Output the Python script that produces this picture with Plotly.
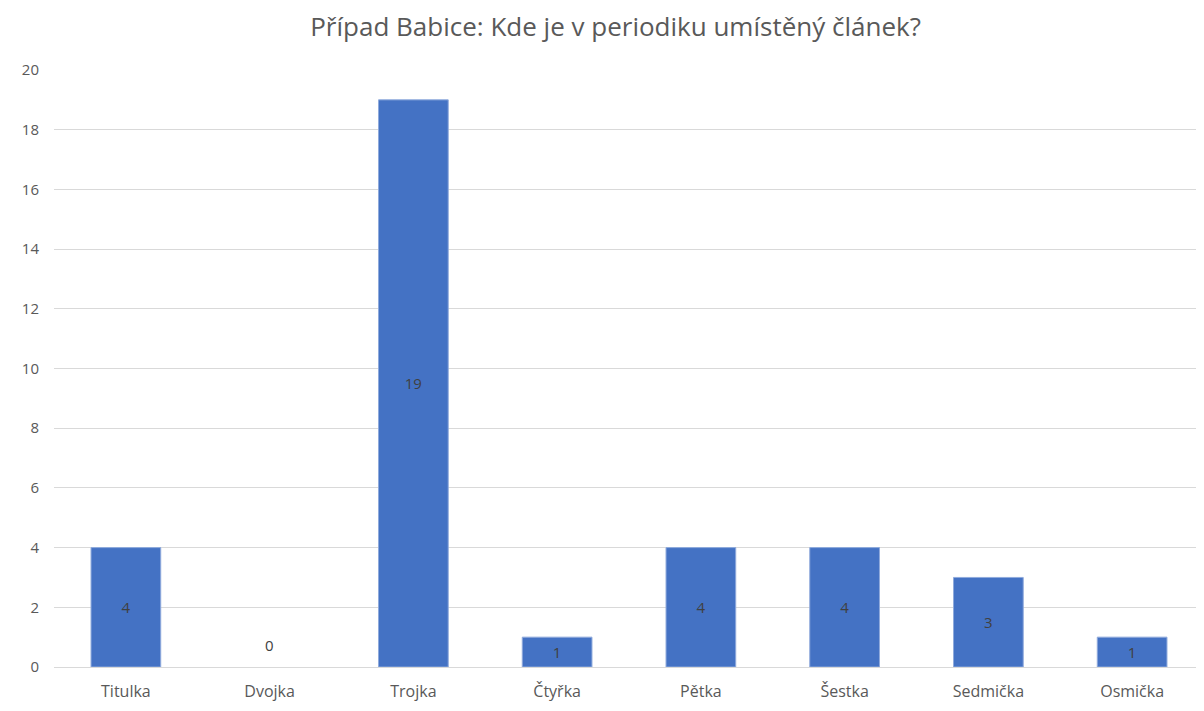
import plotly.graph_objects as go

categories = ["Titulka", "Dvojka", "Trojka", "Čtyřka", "Pětka", "Šestka", "Sedmička", "Osmička"]
values = [4, 0, 19, 1, 4, 4, 3, 1]
y_ticks = [0, 2, 4, 6, 8, 10, 12, 14, 16, 18, 20]
title_text = "Případ Babice: Kde je v periodiku umístěný článek?"

font_family = "Open Sans, Noto Sans, sans-serif"

fig = go.Figure()
fig.add_trace(go.Bar(
    x=categories,
    y=values,
    width=0.485,
    marker=dict(color="#4472C4",
                line=dict(color="#8FAADC", width=[0 if v == 0 else 1 for v in values])),
    text=["" if v == 0 else str(v) for v in values],
    textposition="inside",
    insidetextanchor="middle",
    textfont=dict(color="#404040", size=15, family=font_family),
    cliponaxis=False,
))

# labels for zero-valued bars
for c, v in zip(categories, values):
    if v == 0:
        fig.add_annotation(x=c, y=v, text=str(v), showarrow=False, yshift=22,
                           font=dict(color="#404040", size=15, family=font_family))

fig.update_layout(
    width=1196, height=703,
    paper_bgcolor="white", plot_bgcolor="white",
    margin=dict(l=46, r=0, t=62, b=44),
    title=dict(text=title_text, x=0.508, xanchor="center", xref="container", y=0.973, yanchor="middle",
               font=dict(family=font_family, size=26, color="#595959")),
    showlegend=False,
    uniformtext=dict(minsize=15, mode="show"),
    xaxis=dict(
        range=[-0.5, 7.5],
        showgrid=False,
        showline=True, linecolor="#D9D9D9", linewidth=1,
        ticks="",
        ticklabelstandoff=10,
        tickfont=dict(family=font_family, size=16, color="#595959"),
    ),
    yaxis=dict(
        range=[0, 20],
        tickvals=y_ticks,
        showgrid=True, gridcolor="#D9D9D9", gridwidth=1,
        zeroline=False,
        showline=False,
        ticks="",
        ticklabelstandoff=14,
        tickfont=dict(family=font_family, size=15, color="#595959"),
    ),
    font=dict(family=font_family),
)

fig.write_html("out.html")
